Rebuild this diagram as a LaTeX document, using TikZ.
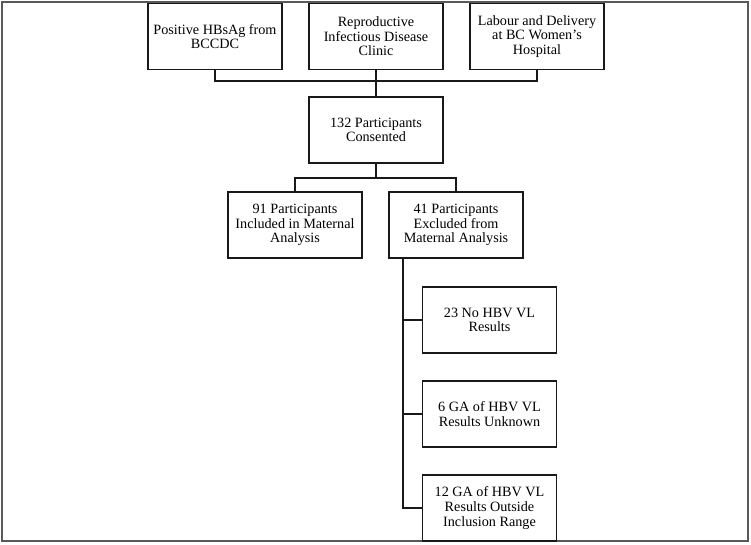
\documentclass[tikz,border=0pt]{standalone}
\usepackage{fontspec}
\setmainfont{Liberation Serif}
\begin{document}
\begin{tikzpicture}[x=1pt,y=-1pt,
  box/.style={draw=black!90, line width=1.6pt, minimum width=134pt, minimum height=66pt,
    align=center, inner sep=2pt, font=\fontsize{14.2}{14.6}\selectfont, text=black},
  conn/.style={draw=black!90, line width=1.6pt}]
\useasboundingbox (0,0) rectangle (751,544);
\draw[black!65, line width=1.6pt] (2,2) rectangle (748,541);

\node[box] (t1) at (215,36.5) {Positive HBsAg from\\BCCDC};
\node[box] (t2) at (376,36.5) {Reproductive\\Infectious Disease\\Clinic};
\node[box] (t3) at (537,36.5) {Labour and Delivery\\at BC Women's\\Hospital};
\node[box] (c132) at (376,130) {132 Participants\\Consented};
\node[box] (inc) at (295,225) {91 Participants\\Included in Maternal\\Analysis};
\node[box] (exc) at (456,225) {41 Participants\\Excluded from\\Maternal Analysis};
\node[box] (r23) at (489.5,320) {23 No HBV VL\\Results};
\node[box] (r6) at (489.5,414) {6 GA of HBV VL\\Results Unknown};
\node[box] (r12) at (489.5,508) {12 GA of HBV VL\\Results Outside\\Inclusion Range};

\coordinate (b1) at (376,81);
\coordinate (b2) at (376,178);
\coordinate (v) at (403,258);

\draw[conn] (t1.south) |- (b1) -| (t3.south);
\draw[conn] (t2.south) -- (c132.north);
\draw[conn] (c132.south) -- (b2);
\draw[conn] (inc.north) |- (b2) -| (exc.north);
\draw[conn] (v) |- (r12.west);
\draw[conn] (r23.west) -- (r23.west -| v);
\draw[conn] (r6.west) -- (r6.west -| v);
\end{tikzpicture}
\end{document}
